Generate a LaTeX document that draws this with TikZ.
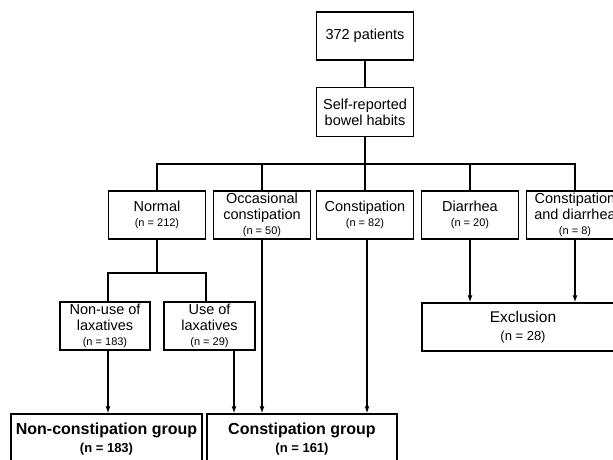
\documentclass[tikz,border=0pt]{standalone}
\usepackage{fontspec}
\setmainfont{Liberation Sans}
\usetikzlibrary{arrows.meta}
\newcommand{\nn}[1]{{\fontsize{11}{13}\selectfont (n = #1)}}
\tikzset{
  box/.style={draw, line width=1.5pt, align=center, minimum width=97pt,
    minimum height=48pt, inner sep=1pt, font=\fontsize{14.5}{16}\selectfont},
  bigbox/.style={box, font=\fontsize{16}{18}\selectfont\bfseries},
  line/.style={line width=1.3pt},
  arr/.style={line, -{Latex[length=7pt,width=5pt]}}
}
\begin{document}
\begin{tikzpicture}[x=1pt, y=-1pt]
        \clip (0,0) rectangle (613,459);
        % top of the chart
        \node[box] (pat) at (365, 36) {372 patients};
        \node[box, minimum height=49pt] (self) at (365, 112) {Self-reported\\bowel habits};

        % bowel habit groups
        \node[box] (normal) at (157, 215) {Normal\\[-1pt]\nn{212}};
        \node[box] (occ) at (262, 215) {Occasional\\constipation\\[-1pt]\nn{50}};
        \node[box] (con) at (365, 215) {Constipation\\[-1pt]\nn{82}};
        \node[box] (dia) at (470, 215) {Diarrhea\\[-1pt]\nn{20}};
        \node[box] (cd) at (575, 215) {Constipation\\and diarrhea\\[-1pt]\nn{8}};

        % laxatives
        \node[box, minimum width=90pt] (nonuse) at (105, 326) {Non-use of\\laxatives\\[-1pt]\nn{183}};
        \node[box, minimum width=91pt] (use) at (209.5, 326) {Use of\\laxatives\\[-1pt]\nn{29}};
        \node[box, minimum width=202pt, font=\fontsize{15.5}{18}\selectfont] (excl) at (523, 327)
          {Exclusion\\{\fontsize{13}{15}\selectfont (n = 28)}};

        % final groups
        \node[bigbox, minimum width=191pt, minimum height=50pt] (ncg) at (106.5, 439)
          {Non-constipation group\\{\fontsize{13}{15}\selectfont (n = 183)}};
        \node[bigbox, minimum width=190pt, minimum height=50pt] (cg) at (302, 439)
          {Constipation group\\{\fontsize{13}{15}\selectfont (n = 161)}};

        % connectors
        \coordinate (bus) at (365, 164);
        \coordinate (split) at (157, 273);
        \draw[line] (pat) -- (self);
        \draw[line] (self) -- (bus);
        \draw[line] (normal.north) |- (bus) -| (cd.north);
        \draw[line] (occ.north) -- (occ.north |- bus);
        \draw[line] (con.north) -- (bus);
        \draw[line] (dia.north) -- (dia.north |- bus);
        \draw[line] (normal) -- (split);
        \draw[line] ([xshift=3pt]nonuse.north) |- (split) -| ([xshift=-3.5pt]use.north);

        \draw[arr] ([xshift=3pt]nonuse.south) -- ([xshift=3pt]nonuse.south |- ncg.north);
        \draw[arr] ([xshift=24.5pt]use.south) -- ([xshift=24.5pt]use.south |- cg.north);
        \draw[arr] (occ.south) -- (occ.south |- cg.north);
        \draw[arr] ([xshift=2pt]con.south) -- ([xshift=2pt]con.south |- cg.north);
        \draw[arr] (dia.south) -- (dia.south |- excl.north);
        \draw[arr] (cd.south) -- (cd.south |- excl.north);
\end{tikzpicture}
\end{document}
